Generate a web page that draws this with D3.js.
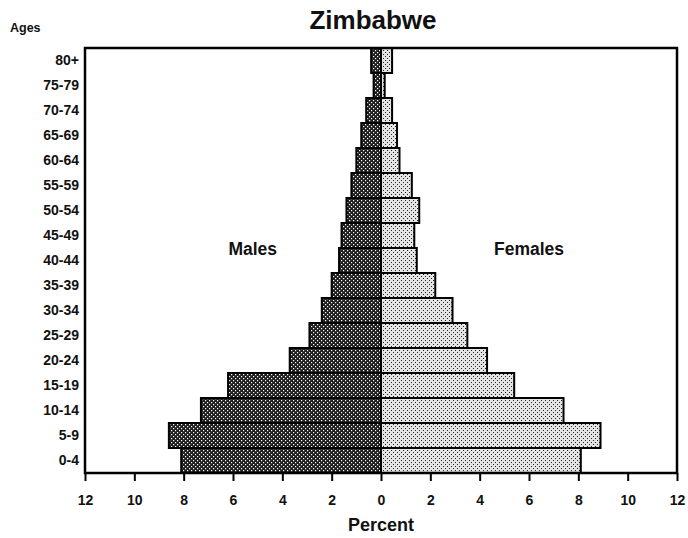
<!DOCTYPE html>
<html>
<head>
<meta charset="utf-8">
<script src="https://cdn.jsdelivr.net/npm/d3@7"></script>
<style>
  body { margin: 0; background: #fff; }
  svg text { font-family: "Liberation Sans", Arial, sans-serif; font-weight: bold; fill: #111; }
</style>
</head>
<body>
<div class="chart"></div>
<script>
'use strict';

// Age groups, bottom to top
const ages = ["0-4", "5-9", "10-14", "15-19", "20-24", "25-29", "30-34", "35-39",
  "40-44", "45-49", "50-54", "55-59", "60-64", "65-69", "70-74", "75-79", "80+"];
// Percent of population
const males = [8.1, 8.6, 7.3, 6.2, 3.7, 2.9, 2.4, 2.0, 1.7, 1.6, 1.4, 1.2, 1.0, 0.8, 0.6, 0.3, 0.4];
const females = [8.1, 8.9, 7.4, 5.4, 4.3, 3.5, 2.9, 2.2, 1.45, 1.35, 1.55, 1.25, 0.75, 0.65, 0.45, 0.15, 0.45];
const xTicks = [-12, -10, -8, -6, -4, -2, 0, 2, 4, 6, 8, 10, 12];

document.addEventListener('DOMContentLoaded', () => {
  const W = 688, H = 538;
  const margin = {top: 48, left: 85, right: 11, bottom: 65};
  const w = W - margin.left - margin.right;
  const h = H - margin.top - margin.bottom;

  const svg = d3.select(".chart").append("svg")
    .attr("width", W)
    .attr("height", H);

  // fill patterns
  const defs = svg.append("defs");
  const pm = defs.append("pattern")
    .attr("id", "male-fill")
    .attr("patternUnits", "userSpaceOnUse")
    .attr("width", 4).attr("height", 4);
  pm.append("rect").attr("width", 4).attr("height", 4).attr("fill", "#1e1e1e");
  pm.append("rect").attr("x", 0).attr("y", 0).attr("width", 1.2).attr("height", 1.2).attr("fill", "#fff");
  pm.append("rect").attr("x", 2).attr("y", 2).attr("width", 1.2).attr("height", 1.2).attr("fill", "#fff");

  const pf = defs.append("pattern")
    .attr("id", "female-fill")
    .attr("patternUnits", "userSpaceOnUse")
    .attr("width", 4).attr("height", 4);
  pf.append("rect").attr("width", 4).attr("height", 4).attr("fill", "#e4e4e4");
  pf.append("rect").attr("x", 0).attr("y", 0).attr("width", 1).attr("height", 1).attr("fill", "#222");
  pf.append("rect").attr("x", 2).attr("y", 2).attr("width", 1).attr("height", 1).attr("fill", "#222");

  const g = svg.append("g")
    .attr("transform", `translate(${margin.left},${margin.top})`);

  const x = d3.scaleLinear().domain([-12, 12]).range([0, w]);
  const y = d3.scaleBand().domain(ages.slice().reverse()).range([0, h]).padding(0);

  const rows = ages.map((a, i) => ({age: a, m: males[i], f: females[i]}));

  // bars
  g.selectAll(".male").data(rows).enter().append("rect")
    .attr("class", "male")
    .attr("x", d => x(-d.m))
    .attr("y", d => y(d.age))
    .attr("width", d => x(0) - x(-d.m))
    .attr("height", y.bandwidth())
    .attr("fill", "url(#male-fill)")
    .attr("stroke", "#000")
    .attr("stroke-width", 2);

  g.selectAll(".female").data(rows).enter().append("rect")
    .attr("class", "female")
    .attr("x", x(0))
    .attr("y", d => y(d.age))
    .attr("width", d => x(d.f) - x(0))
    .attr("height", y.bandwidth())
    .attr("fill", "url(#female-fill)")
    .attr("stroke", "#000")
    .attr("stroke-width", 2);

  // frame
  g.append("rect")
    .attr("width", w).attr("height", h)
    .attr("fill", "none")
    .attr("stroke", "#000")
    .attr("stroke-width", 2.5);

  // x axis
  const xAxis = d3.axisBottom(x)
    .tickValues(xTicks)
    .tickFormat(d => Math.abs(d))
    .tickSize(8)
    .tickPadding(14);
  const gx = g.append("g")
    .attr("transform", `translate(0,${h})`)
    .call(xAxis);
  gx.select(".domain").remove();
  gx.selectAll(".tick line").attr("stroke", "#000").attr("stroke-width", 2);
  gx.selectAll("text").style("font-size", "14px");

  // y axis labels
  const yAxis = d3.axisLeft(y).tickSize(0).tickPadding(6);
  const gy = g.append("g").call(yAxis);
  gy.select(".domain").remove();
  gy.selectAll("text").style("font-size", "14px");

  // titles
  svg.append("text")
    .attr("x", 373).attr("y", 29)
    .attr("text-anchor", "middle")
    .style("font-size", "26px")
    .text("Zimbabwe");
  svg.append("text")
    .attr("x", 10).attr("y", 32)
    .style("font-size", "12.5px")
    .text("Ages");
  svg.append("text")
    .attr("x", x(-5.2) + margin.left).attr("y", 255)
    .attr("text-anchor", "middle")
    .style("font-size", "17.5px")
    .text("Males");
  svg.append("text")
    .attr("x", x(6) + margin.left).attr("y", 255)
    .attr("text-anchor", "middle")
    .style("font-size", "17.5px")
    .text("Females");
  svg.append("text")
    .attr("x", x(0) + margin.left).attr("y", 531)
    .attr("text-anchor", "middle")
    .style("font-size", "18px")
    .text("Percent");
});
</script>
</body>
</html>
